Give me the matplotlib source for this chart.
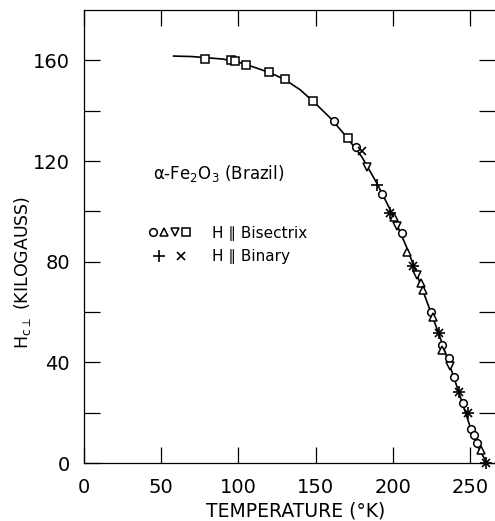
import matplotlib
matplotlib.use("Agg")
import matplotlib.pyplot as plt
from matplotlib.legend_handler import HandlerTuple

# Smooth curve drawn through the data
curve_T = [58, 70, 80, 90, 100, 110, 120, 130, 140, 150, 160, 170, 180,
           190, 200, 210, 220, 230, 240, 250, 255, 261]
curve_H = [161.7, 161.5, 161.0, 160.5, 159.3, 157.3, 155.2, 152.4, 148.3,
           142.8, 136.8, 129.6, 121.6, 110.8, 98.6, 84.2, 67.6, 51.0, 33.2,
           14.6, 6.5, 0.0]

# H || bisectrix measurements
square_T = [78.4, 95.2, 97.8, 104.9, 119.8, 130.2, 148.3, 171.0]
square_H = [160.7, 160.3, 159.6, 158.0, 155.3, 152.5, 143.7, 129.0]
circle_T = [162, 176, 193, 206, 224.6, 231.8, 236.4, 239.6, 245.5, 250.6, 252.6, 254.5]
circle_H = [135.7, 125.4, 106.7, 91.2, 60.1, 47.0, 41.8, 34.2, 24.0, 13.5, 11.1, 8.0]
tri_up_T = [201, 209, 218, 219.7, 226, 232, 257]
tri_up_H = [97.9, 84.0, 71.7, 68.9, 58.0, 45.0, 5.0]
tri_dn_T = [183, 203, 215.5, 237]
tri_dn_H = [117.8, 94.3, 74.8, 38.6]

# H || binary measurements
plus_T = [190, 198, 213, 230, 243, 248.5, 260.5]
plus_H = [110.3, 99.5, 78.4, 51.7, 28.2, 20.0, 0.0]
cross_T = [180, 198, 213, 230, 243, 248.5, 260.5]
cross_H = [123.8, 99.5, 78.4, 51.7, 28.2, 20.0, 0.0]

x_ticks = [0, 50, 100, 150, 200, 250]
y_ticks = [0, 40, 80, 120, 160]
y_minor = [20, 60, 100, 140]

fig = plt.figure(figsize=(4.95, 5.21), dpi=100)
ax = fig.add_axes([0.1697, 0.1113, 0.8303, 0.8695])

ax.plot(curve_T, curve_H, color='black', lw=1.2, zorder=2)

mk = dict(ls='none', mfc='white', mec='black', mew=1.1, clip_on=False, zorder=3)
sq, = ax.plot(square_T, square_H, marker='s', ms=5.5, **mk)
ci, = ax.plot(circle_T, circle_H, marker='o', ms=5.5, **mk)
tu, = ax.plot(tri_up_T, tri_up_H, marker='^', ms=5.5, **mk)
td, = ax.plot(tri_dn_T, tri_dn_H, marker='v', ms=5.5, **mk)
pl, = ax.plot(plus_T, plus_H, marker='+', ms=8, ls='none', mec='black', mew=1.2,
              clip_on=False, zorder=3)
cr, = ax.plot(cross_T, cross_H, marker='x', ms=6, ls='none', mec='black', mew=1.2,
              clip_on=False, zorder=3)

ax.set_xlim(0, 266.2)
ax.set_ylim(0, 180)

ax.set_xticks(x_ticks)
ax.set_xticklabels(['0', '50', '100', '150', '200', '250'])
ax.set_yticks(y_ticks)
ax.set_yticks(y_minor, minor=True)
ax.tick_params(axis='both', which='both', direction='in', length=11.5,
               width=0.9, labelsize=14, top=True)
ax.tick_params(axis='x', pad=11)
ax.tick_params(axis='y', pad=10)
ax.tick_params(axis='y', which='both', right=True)

ax.spines['right'].set_visible(False)
for s in ['left', 'bottom', 'top']:
    ax.spines[s].set_linewidth(0.9)

ax.set_xlabel('TEMPERATURE (°K)', fontsize=13.5)
ax.set_ylabel(r'H$_{\mathrm{c}\perp}$ (KILOGAUSS)', fontsize=12.5)
ax.xaxis.set_label_coords(0.516, -0.084)
ax.yaxis.set_label_coords(-0.125, 0.42)

ax.text(44.7, 112.8, 'α-Fe$_2$O$_3$ (Brazil)', fontsize=12, va='baseline')

leg = ax.legend(handles=[(ci, tu, td, sq), (pl, cr)],
                labels=['H ∥ Bisectrix', 'H ∥ Binary'],
                handler_map={tuple: HandlerTuple(ndivide=None, pad=0)},
                loc='upper left', bbox_to_anchor=(0.155, 0.524),
                frameon=False, fontsize=11, handlelength=2.9,
                handletextpad=1.3, labelspacing=0.58, borderpad=0,
                borderaxespad=0, numpoints=1)

fig.savefig('out.png', dpi=100)
